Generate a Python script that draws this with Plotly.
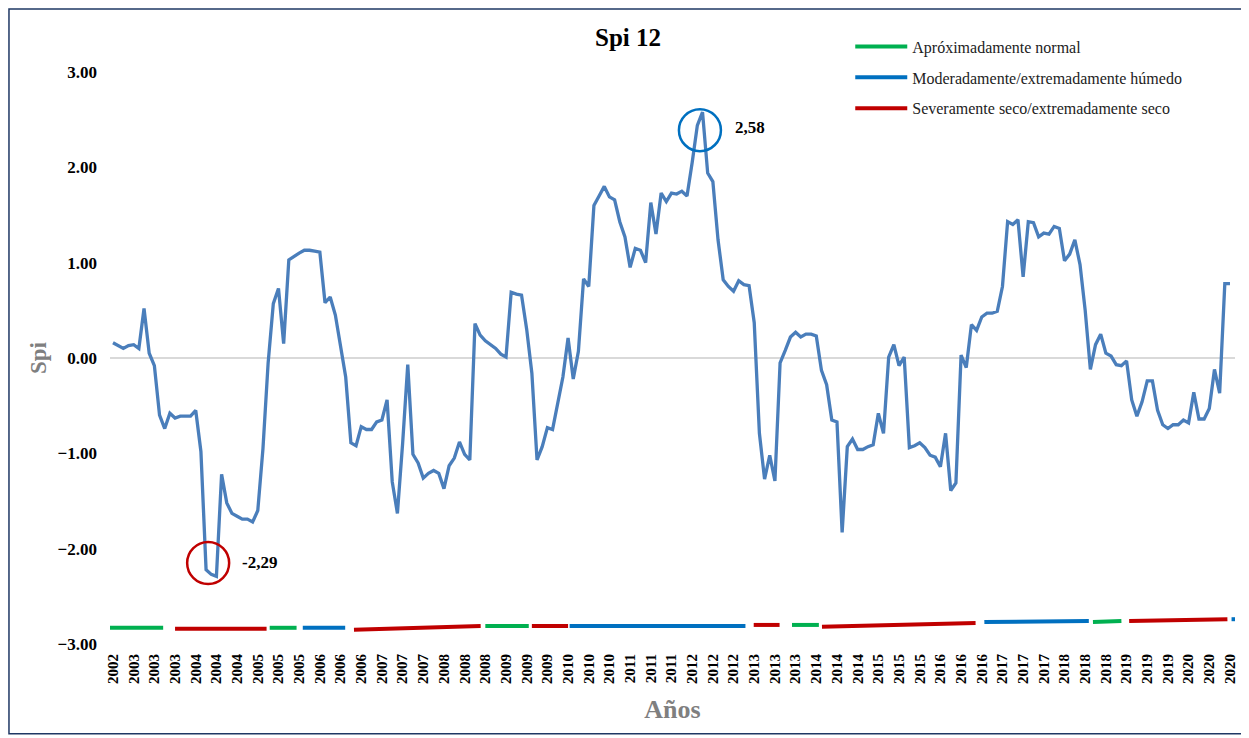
import plotly.graph_objects as go

# SPI-12 monthly values (Sep 2002 - Sep 2020)
spi = [
    0.16, 0.13, 0.10, 0.13, 0.14, 0.10, 0.52, 0.05, -0.08, -0.60,
    -0.74, -0.58, -0.63, -0.61, -0.61, -0.61, -0.55, -0.98, -2.22, -2.27,
    -2.29, -1.22, -1.52, -1.63, -1.66, -1.69, -1.69, -1.72, -1.60, -0.95,
    -0.05, 0.57, 0.73, 0.15, 1.03, 1.07, 1.10, 1.13, 1.13, 1.12,
    1.11, 0.58, 0.64, 0.45, 0.12, -0.20, -0.89, -0.92, -0.72, -0.75,
    -0.75, -0.67, -0.65, -0.44, -1.30, -1.63, -0.90, -0.07, -1.01, -1.10,
    -1.26, -1.21, -1.18, -1.21, -1.37, -1.13, -1.05, -0.88, -1.01, -1.07,
    0.36, 0.24, 0.18, 0.14, 0.10, 0.04, 0.01, 0.69, 0.67, 0.66,
    0.30, -0.16, -1.07, -0.93, -0.73, -0.75, -0.46, -0.20, 0.21, -0.22,
    0.07, 0.83, 0.75, 1.60, 1.70, 1.80, 1.69, 1.66, 1.43, 1.27,
    0.95, 1.15, 1.13, 1.00, 1.63, 1.30, 1.73, 1.64, 1.73, 1.72,
    1.75, 1.70, 2.05, 2.44, 2.58, 1.94, 1.85, 1.24, 0.82, 0.75,
    0.70, 0.81, 0.77, 0.76, 0.37, -0.79, -1.27, -1.02, -1.29, -0.05,
    0.08, 0.22, 0.27, 0.22, 0.25, 0.25, 0.23, -0.13, -0.28, -0.65,
    -0.67, -1.83, -0.93, -0.85, -0.96, -0.96, -0.93, -0.91, -0.58, -0.79,
    0.01, 0.14, -0.08, 0.01, -0.94, -0.92, -0.89, -0.94, -1.02, -1.04,
    -1.14, -0.79, -1.39, -1.31, 0.03, -0.10, 0.35, 0.29, 0.43, 0.47,
    0.47, 0.49, 0.75, 1.43, 1.40, 1.45, 0.85, 1.43, 1.42, 1.27,
    1.31, 1.30, 1.38, 1.36, 1.02, 1.09, 1.24, 0.98, 0.50, -0.12,
    0.14, 0.25, 0.05, 0.02, -0.07, -0.08, -0.03, -0.44, -0.61, -0.46,
    -0.24, -0.24, -0.55, -0.70, -0.74, -0.70, -0.70, -0.65, -0.68, -0.36,
    -0.64, -0.64, -0.53, -0.12, -0.37, 0.78, 0.78,
]

tick_labels = ["2002"] + [str(y) for y in range(2003, 2021) for _ in range(3)]
tick_step = 4

# classification bands drawn under the series (start idx, end idx, y start, y end, class)
seg_start = [-1.6, 12.0, 30.3, 36.7, 46.6, 72.0, 81.0, 88.3, 123.9, 131.3, 137.1, 168.5, 189.5, 196.5, 216.3]
seg_end = [9.7, 29.7, 35.5, 44.9, 71.1, 80.4, 88.0, 122.3, 128.9, 136.5, 166.8, 188.7, 195.0, 215.5, 220.2]
seg_y0 = [-2.83, -2.84, -2.83, -2.83, -2.85, -2.81, -2.81, -2.81, -2.80, -2.80, -2.82, -2.77, -2.77, -2.76, -2.74]
seg_y1 = [-2.83, -2.84, -2.83, -2.83, -2.81, -2.81, -2.81, -2.81, -2.80, -2.80, -2.78, -2.76, -2.76, -2.74, -2.74]
seg_class = ["n", "s", "n", "h", "s", "n", "s", "h", "s", "n", "s", "h", "n", "s", "h"]

classes = {
    "n": ("Apróximadamente normal", "#00B050"),
    "h": ("Moderadamente/extremadamente húmedo", "#0070C0"),
    "s": ("Severamente seco/extremadamente seco", "#C00000"),
}

serif = "Liberation Serif"
x = list(range(len(spi)))

fig = go.Figure()

fig.add_trace(go.Scatter(
    x=x, y=spi, mode="lines",
    line=dict(color="#4A7EBB", width=3.3),
    showlegend=False, hoverinfo="skip"
))

shown = set()
for key in ["n", "h", "s"]:
    name, color = classes[key]
    for a, b, y0, y1, c in zip(seg_start, seg_end, seg_y0, seg_y1, seg_class):
        if c != key:
            continue
        fig.add_trace(go.Scatter(
            x=[a, b], y=[y0, y1], mode="lines",
            line=dict(color=color, width=4),
            name=name, legendgroup=key,
            showlegend=key not in shown
        ))
        shown.add(key)

# highlight circles around extremes
fig.add_trace(go.Scatter(
    x=[18.4, 113.5], y=[-2.15, 2.39], mode="markers",
    marker=dict(symbol="circle-open", size=42,
                line=dict(width=2.5), color=["#C00000", "#0070C0"]),
    showlegend=False, hoverinfo="skip", cliponaxis=False
))

fig.add_annotation(x=28.3, y=-2.15, text="<b>-2,29</b>", showarrow=False,
                   font=dict(family=serif, size=17, color="black"), xanchor="center")
fig.add_annotation(x=123.1, y=2.42, text="<b>2,58</b>", showarrow=False,
                   font=dict(family=serif, size=17, color="black"), xanchor="center")

# outer frame of the chart
fig.add_shape(type="rect", xref="paper", yref="paper",
              x0=-0.0898, x1=1.0062, y0=-0.157, y1=1.110,
              line=dict(color="#1F3864", width=1.5), layer="below")

fig.update_layout(
    width=1241, height=730,
    margin=dict(l=102, r=14, t=64, b=94),
    paper_bgcolor="white", plot_bgcolor="white",
    font=dict(family=serif, color="black"),
    title=dict(text="<b>Spi 12</b>", x=620 / 1241, xref="container", y=1 - 29 / 730,
               yref="container", xanchor="center", yanchor="middle",
               font=dict(family=serif, size=25, color="black")),
    legend=dict(x=0.658, y=1.074, xanchor="left", yanchor="top",
                bgcolor="rgba(0,0,0,0)", font=dict(family=serif, size=16, color="#222"),
                itemwidth=52, tracegroupgap=7, traceorder="grouped"),
    xaxis=dict(
        range=[-0.58, 216.97],
        tickmode="array",
        tickvals=[i * tick_step for i in range(len(tick_labels))],
        ticktext=tick_labels,
        tickangle=-90,
        tickfont=dict(family=serif, size=15, color="black", weight="bold"),
        ticklabelstandoff=6,
        showgrid=False, zeroline=False, showline=False,
        title=dict(text="<b>Años</b>", font=dict(family=serif, size=26, color="#7F7F7F"),
                   standoff=16),
    ),
    yaxis=dict(
        range=[-3, 3],
        tickvals=[3, 2, 1, 0, -1, -2, -3],
        tickformat=".2f",
        tickfont=dict(family=serif, size=17, color="black", weight="bold"),
        ticklabelstandoff=12,
        showgrid=False, zeroline=True, zerolinecolor="#D9D9D9", zerolinewidth=1.5,
        showline=False,
        title=dict(text="<b>Spi</b>", font=dict(family=serif, size=23, color="#7F7F7F"),
                   standoff=4),
    ),
)

fig.write_html("out.html")
